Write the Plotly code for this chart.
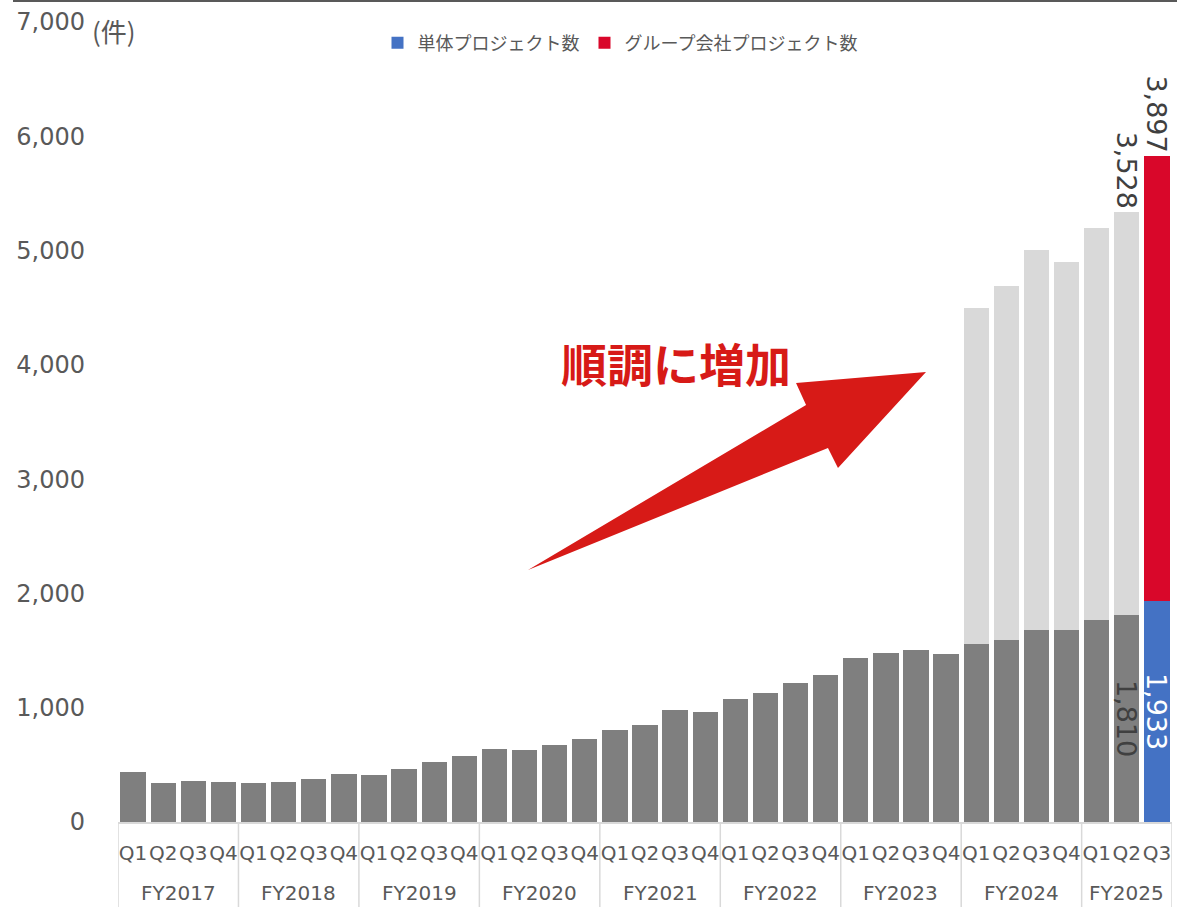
import plotly.graph_objects as go

# ---------------- data ----------------
fiscal_years = ["FY2017", "FY2018", "FY2019", "FY2020", "FY2021",
                "FY2022", "FY2023", "FY2024", "FY2025"]
quarters_per_year = [4, 4, 4, 4, 4, 4, 4, 4, 3]
quarter_names = ["Q1", "Q2", "Q3", "Q4"]

# historical single (non-consolidated) project counts, grey bars
single_hist = [436, 342, 363, 348,
               342, 348, 372, 416,
               412, 468, 524, 579,
               638, 629, 675, 725,
               804, 846, 977, 962,
               1074, 1129, 1219, 1287,
               1433, 1480, 1504, 1471,
               1559, 1594, 1679, 1682,
               1767, 1810, None]
# historical group company project counts, light grey bars
group_hist = [None] * 28 + [2938, 3096, 3327, 3216, 3432, 3528, None]
# latest quarter
single_latest = [None] * 34 + [1933]
group_latest = [None] * 34 + [3897]

y_ticks = [0, 1000, 2000, 3000, 4000, 5000, 6000, 7000]

# ---------------- build axis categories ----------------
categories, q_labels = [], []
for fy, n in zip(fiscal_years, quarters_per_year):
    for q in quarter_names[:n]:
        categories.append(f"{fy} {q}")
        q_labels.append(q)


def fmt(v):
    return "" if v is None else f"{v:,}"


def last_label(vals, idx):
    return [fmt(v) if i == idx else "" for i, v in enumerate(vals)]


LABEL_FONT = dict(family="DejaVu Sans", size=27)
DARK = "#404040"

fig = go.Figure()
fig.add_trace(go.Bar(
    x=categories, y=single_hist, name="単体プロジェクト数(過去)", showlegend=False,
    marker=dict(color="#7f7f7f", line=dict(width=0)),
    text=last_label(single_hist, 33), textposition="inside",
    insidetextanchor="middle", textangle=90, constraintext="none",
    textfont=dict(LABEL_FONT, color=DARK), hoverinfo="skip"))
fig.add_trace(go.Bar(
    x=categories, y=single_latest, name="単体プロジェクト数",
    marker=dict(color="#4472c4", line=dict(width=0)),
    text=last_label(single_latest, 34), textposition="inside",
    insidetextanchor="middle", textangle=90, constraintext="none",
    textfont=dict(LABEL_FONT, color="white")))
fig.add_trace(go.Bar(
    x=categories, y=group_hist, name="グループ会社プロジェクト数(過去)", showlegend=False,
    marker=dict(color="#d9d9d9", line=dict(width=0)),
    text=last_label(group_hist, 33), textposition="outside",
    textangle=90, constraintext="none", cliponaxis=False,
    textfont=dict(LABEL_FONT, color=DARK), hoverinfo="skip"))
fig.add_trace(go.Bar(
    x=categories, y=group_latest, name="グループ会社プロジェクト数",
    marker=dict(color="#d9072a", line=dict(width=0)),
    text=last_label(group_latest, 34), textposition="outside",
    textangle=90, constraintext="none", cliponaxis=False,
    textfont=dict(LABEL_FONT, color=DARK)))

# ---------------- layout helpers (pixel -> paper) ----------------
L, R, T, B = 118, 1172, 22, 822
W, H = R - L, B - T


def px(xp):
    return (xp - L) / W


def py(yp):
    return (B - yp) / H


arrow_pts = [(528, 570), (806, 405), (796, 383), (926, 372),
             (838, 468), (828, 448)]
path = "M " + " L ".join(f"{px(a):.4f},{py(b):.4f}" for a, b in arrow_pts) + " Z"

shapes = [
    dict(type="path", xref="paper", yref="paper", path=path,
         fillcolor="#d71a17", line=dict(width=0), layer="above"),
    dict(type="line", xref="paper", yref="paper",
         x0=px(13), x1=px(1177), y0=py(1), y1=py(1),
         line=dict(color="#595959", width=2)),
]
annotations = [
    dict(text="順調に増加", xref="paper", yref="paper",
         x=px(676), y=py(362), xanchor="center", yanchor="middle",
         showarrow=False,
         font=dict(family="Noto Sans CJK JP", size=46, color="#d71a17",
                   weight="bold")),
    dict(text="(件)", xref="paper", yref="paper",
         x=px(90), y=py(31), xanchor="left", yanchor="middle",
         showarrow=False,
         font=dict(family="Noto Sans CJK JP", size=26, color="#595959")),
]

# fiscal-year group labels and dividers (category-index positions)
start = 0
boundaries = [-0.5]
for fy, n in zip(fiscal_years, quarters_per_year):
    annotations.append(dict(
        text=fy, xref="x", yref="paper", x=start + (n - 1) / 2, y=py(893),
        xanchor="center", yanchor="middle", showarrow=False,
        font=dict(family="DejaVu Sans", size=20, color="#595959")))
    start += n
    boundaries.append(start - 0.5)
for b in boundaries:
    shapes.append(dict(type="line", xref="x", yref="paper",
                       x0=b, x1=b, y0=0, y1=py(908),
                       line=dict(color="#d9d9d9", width=1.5)))

fig.update_layout(
    width=1177, height=907,
    margin=dict(l=L, r=1177 - R, t=T, b=907 - B, autoexpand=False),
    paper_bgcolor="white", plot_bgcolor="white",
    barmode="stack", bargap=0.16,
    font=dict(family="DejaVu Sans", color="#595959"),
    showlegend=True,
    legend=dict(orientation="h", x=px(620), xanchor="center",
                y=py(43), yanchor="middle",
                font=dict(family="Noto Sans CJK JP", size=18, color="#595959"),
                traceorder="normal", itemclick=False,
                bgcolor="rgba(0,0,0,0)"),
    xaxis=dict(type="category", categoryorder="array", categoryarray=categories,
               tickvals=categories, ticktext=q_labels,
               range=[-0.5, len(categories) - 0.5],
               showgrid=False, zeroline=False,
               showline=True, linecolor="#d9d9d9", linewidth=1.5,
               tickfont=dict(family="DejaVu Sans", size=20, color="#595959"),
               tickangle=0, automargin=False,
               ticks="", ticklabelstandoff=12),
    yaxis=dict(range=[0, 7000], tickvals=y_ticks, tickformat=",",
               showgrid=False, zeroline=False, showline=False, ticks="",
               automargin=False,
               tickfont=dict(family="DejaVu Sans", size=24, color="#595959"),
               ticklabelstandoff=32),
    shapes=shapes,
    annotations=annotations,
)

fig.write_html("out.html")
